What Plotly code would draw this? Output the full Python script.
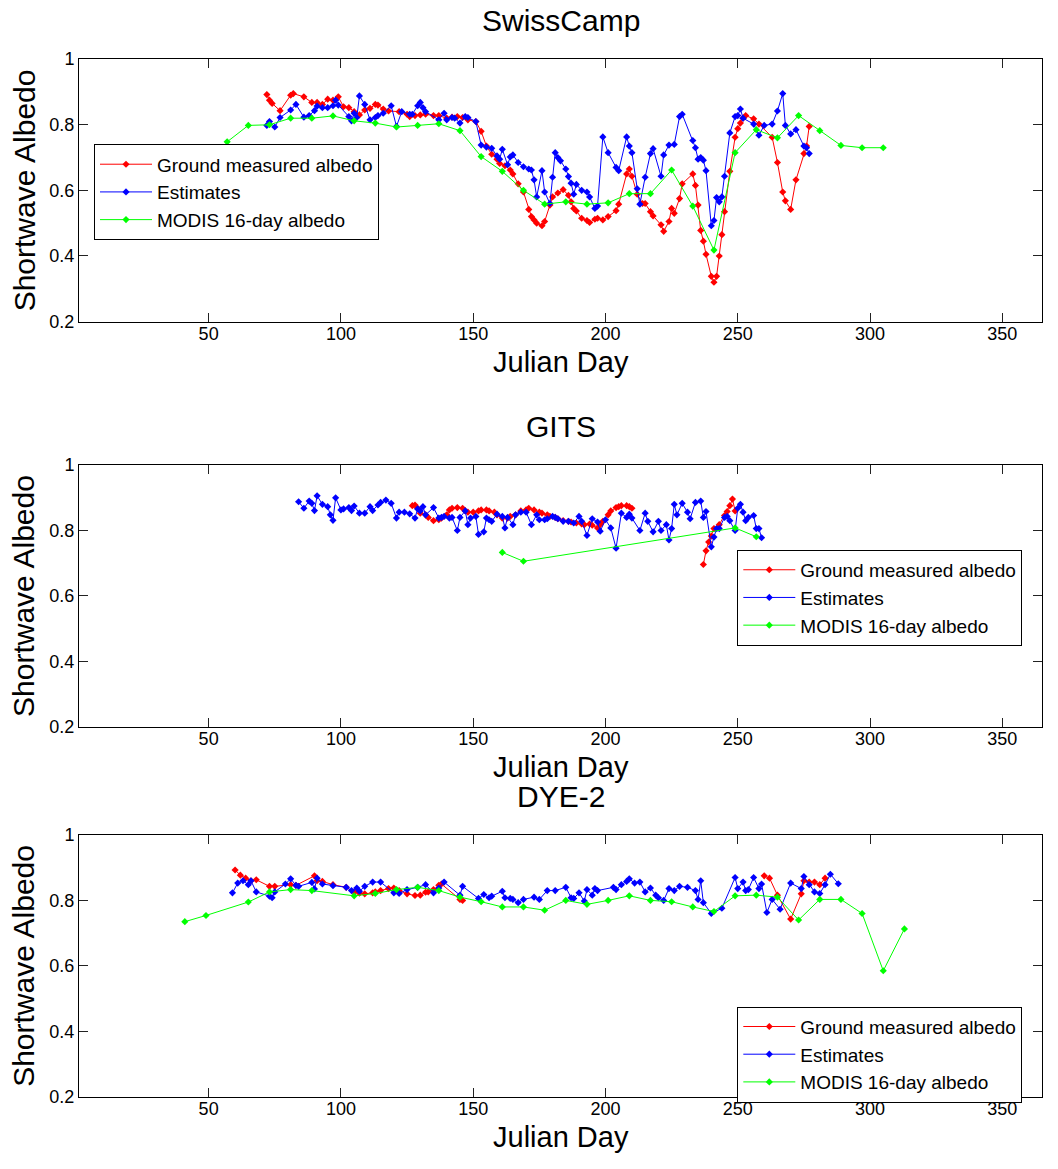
import plotly.graph_objects as go

# ---------------- SwissCamp ----------------
swiss_ground_day = [72, 73, 74, 77, 81, 82, 86, 89, 91, 93, 95, 97, 99, 101, 103, 105, 107, 109, 111,
                    113, 114, 116, 118, 122, 125, 126, 128, 130, 132, 135, 137, 140, 142, 144, 146, 148,
                    151, 153, 155, 157, 159, 160, 162, 164, 165, 167, 169, 171, 172, 173, 174, 176, 177,
                    179, 180, 182, 184, 186, 187, 188, 189, 191, 193, 194, 196, 197, 199, 201, 204, 205,
                    208, 209, 210, 212, 214, 215, 217, 218, 221, 222, 224, 225, 226, 228, 229, 233, 234,
                    235, 236, 237, 238, 240, 241, 242, 243, 244, 245, 247, 249, 250, 251, 252, 253, 256,
                    258, 263, 265, 267, 268, 270, 272, 275, 276, 277]
swiss_ground_alb = [0.892, 0.875, 0.865, 0.843, 0.890, 0.895, 0.885, 0.868, 0.868, 0.862, 0.878, 0.875,
                    0.885, 0.855, 0.852, 0.840, 0.830, 0.845, 0.850, 0.862, 0.860, 0.848, 0.842, 0.840,
                    0.832, 0.825, 0.828, 0.830, 0.832, 0.828, 0.828, 0.820, 0.823, 0.825, 0.822, 0.815,
                    0.810, 0.780, 0.735, 0.710, 0.695, 0.682, 0.675, 0.662, 0.650, 0.620, 0.595, 0.542,
                    0.520, 0.510, 0.500, 0.492, 0.505, 0.555, 0.580, 0.592, 0.602, 0.585, 0.565, 0.545,
                    0.537, 0.515, 0.508, 0.502, 0.512, 0.515, 0.510, 0.520, 0.538, 0.558, 0.650, 0.665,
                    0.643, 0.588, 0.560, 0.560, 0.535, 0.522, 0.495, 0.475, 0.505, 0.545, 0.530, 0.575,
                    0.620, 0.650, 0.615, 0.555, 0.478, 0.445, 0.405, 0.338, 0.320, 0.338, 0.400, 0.465,
                    0.535, 0.658, 0.762, 0.788, 0.805, 0.820, 0.828, 0.818, 0.802, 0.762, 0.685, 0.595,
                    0.568, 0.542, 0.632, 0.712, 0.735, 0.795]

swiss_est_day = [72, 73, 75, 77, 81, 83, 86, 88, 90, 91, 93, 95, 97, 98, 99, 103, 104, 105, 106, 107,
                 109, 111, 113, 114, 116, 119, 121, 123, 126, 127, 129, 130, 131, 132, 137, 139, 140, 142,
                 143, 145, 147, 148, 151, 153, 155, 157, 159, 160, 161, 163, 164, 165, 167, 169, 171, 172,
                 173, 174, 176, 177, 179, 180, 181, 182, 183, 185, 186, 187, 188, 189, 191, 193, 194, 196,
                 197, 199, 201, 204, 205, 208, 209, 210, 212, 213, 215, 217, 218, 221, 222, 224, 226, 228,
                 229, 233, 234, 235, 236, 237, 238, 240, 241, 242, 243, 244, 245, 247, 249, 250, 251, 252,
                 256, 258, 260, 263, 265, 267, 268, 270, 272, 275, 276, 277]
swiss_est_alb = [0.798, 0.810, 0.793, 0.822, 0.845, 0.862, 0.823, 0.828, 0.843, 0.857, 0.852, 0.852,
                 0.858, 0.875, 0.860, 0.825, 0.812, 0.835, 0.822, 0.888, 0.862, 0.815, 0.822, 0.828,
                 0.835, 0.858, 0.795, 0.840, 0.832, 0.832, 0.858, 0.868, 0.852, 0.840, 0.815, 0.835,
                 0.815, 0.822, 0.820, 0.805, 0.825, 0.822, 0.810, 0.738, 0.732, 0.728, 0.705, 0.695,
                 0.725, 0.678, 0.702, 0.708, 0.685, 0.672, 0.665, 0.662, 0.632, 0.580, 0.660, 0.595,
                 0.560, 0.640, 0.715, 0.700, 0.690, 0.665, 0.642, 0.622, 0.588, 0.618, 0.600, 0.595,
                 0.580, 0.545, 0.552, 0.763, 0.715, 0.670, 0.660, 0.763, 0.735, 0.715, 0.605, 0.558,
                 0.640, 0.712, 0.727, 0.643, 0.708, 0.738, 0.740, 0.825, 0.832, 0.752, 0.730, 0.695,
                 0.700, 0.692, 0.660, 0.492, 0.508, 0.578, 0.565, 0.580, 0.643, 0.775, 0.825, 0.828,
                 0.848, 0.820, 0.802, 0.768, 0.798, 0.802, 0.842, 0.895, 0.798, 0.772, 0.785, 0.735,
                 0.730, 0.712]

swiss_modis_day = [57, 65, 73, 81, 89, 97, 105, 113, 121, 129, 137, 145, 153, 161, 169, 177, 185,
                   193, 201, 209, 217, 225, 233, 241, 249, 257, 265, 273, 281, 289, 297, 305]
swiss_modis_alb = [0.748, 0.798, 0.800, 0.820, 0.820, 0.827, 0.812, 0.805, 0.793, 0.798, 0.803, 0.782,
                   0.703, 0.658, 0.600, 0.558, 0.565, 0.558, 0.562, 0.590, 0.590, 0.662, 0.552, 0.418,
                   0.715, 0.785, 0.760, 0.828, 0.782, 0.737, 0.730, 0.730]

# ---------------- GITS ----------------
# None marks the break in the ground record between the two measuring periods
gits_ground_day = [127, 128, 129, 130, 132, 133, 135, 137, 138, 140, 141, 142, 144, 146, 147, 148, 150,
                   152, 153, 155, 156, 158, 159, 161, 163, 164, 166, 168, 170, 171, 173, 175, 176, 178,
                   179, 181, 182, 184, 186, 187, 189, 191, 192, 194, 195, 197, 198, 199, 201, 202, 204,
                   205, 206, 208, 209, 210, None,
                   237, 238, 239, 240, 241, 243, 245, 246, 247, 248, 249]
gits_ground_alb = [0.876, 0.878, 0.868, 0.853, 0.848, 0.840, 0.830, 0.833, 0.838, 0.848, 0.863, 0.868,
                   0.870, 0.868, 0.860, 0.856, 0.856, 0.860, 0.863, 0.863, 0.860, 0.856, 0.848, 0.838,
                   0.838, 0.843, 0.848, 0.860, 0.863, 0.868, 0.863, 0.856, 0.853, 0.848, 0.843, 0.840,
                   0.836, 0.830, 0.828, 0.826, 0.823, 0.820, 0.818, 0.820, 0.816, 0.808, 0.818, 0.828,
                   0.848, 0.860, 0.870, 0.873, 0.876, 0.876, 0.873, 0.868, None,
                   0.696, 0.738, 0.765, 0.783, 0.806, 0.818, 0.846, 0.858, 0.876, 0.896, 0.860]

gits_est_day = [84, 86, 88, 89, 90, 91, 93, 95, 96, 97, 98, 100, 101, 103, 104, 105, 107, 109, 111, 112,
                114, 115, 117, 119, 121, 122, 124, 126, 128, 129, 130, 131, 132, 135, 137, 138, 139, 141,
                142, 144, 145, 147, 148, 149, 151, 152, 154, 155, 156, 157, 159, 161, 162, 163, 165, 166,
                168, 170, 172, 174, 175, 177, 178, 180, 181, 182, 184, 186, 188, 190, 191, 193, 195, 197,
                198, 200, 202, 204, 206, 208, 209, 210, 213, 215, 216, 218, 220, 221, 223, 224, 225, 226,
                227, 229, 231, 232, 234, 236, 237, 238, 240, 241, 242, 243, 245, 246, 247, 249, 250, 251,
                252, 253, 254, 256, 257, 258, 259]
gits_est_alb = [0.888, 0.868, 0.890, 0.883, 0.861, 0.906, 0.880, 0.873, 0.848, 0.831, 0.900, 0.863,
                0.866, 0.870, 0.861, 0.875, 0.853, 0.853, 0.873, 0.861, 0.878, 0.886, 0.893, 0.883,
                0.838, 0.856, 0.856, 0.851, 0.838, 0.866, 0.860, 0.873, 0.848, 0.870, 0.838, 0.840,
                0.843, 0.838, 0.840, 0.800, 0.840, 0.860, 0.818, 0.838, 0.843, 0.788, 0.796, 0.838,
                0.833, 0.828, 0.850, 0.843, 0.808, 0.840, 0.818, 0.848, 0.856, 0.856, 0.818, 0.848,
                0.833, 0.833, 0.836, 0.843, 0.840, 0.836, 0.828, 0.828, 0.823, 0.843, 0.828, 0.785,
                0.836, 0.826, 0.798, 0.833, 0.808, 0.746, 0.853, 0.840, 0.850, 0.838, 0.800, 0.853,
                0.828, 0.796, 0.828, 0.800, 0.818, 0.771, 0.806, 0.880, 0.848, 0.883, 0.856, 0.836,
                0.886, 0.890, 0.840, 0.858, 0.750, 0.780, 0.806, 0.806, 0.840, 0.843, 0.830, 0.800,
                0.868, 0.880, 0.856, 0.830, 0.840, 0.846, 0.806, 0.806, 0.778]

gits_modis_day = [161, 169, 249, 257]
gits_modis_alb = [0.733, 0.706, 0.808, 0.781]

# ---------------- DYE-2 ----------------
dye_ground_day = [60, 62, 64, 66, 68, 73, 75, 81, 83, 90, 91, 93, 97, 102, 105, 107, 109, 112, 113, 115,
                  118, 120, 122, 125, 128, 130, 132, 133, 135, 137, 138, 145, 146, None,
                  260, 262, 265, 270, 274, 275, 277, 279, 281, 283]
dye_ground_alb = [0.893, 0.877, 0.868, 0.860, 0.863, 0.843, 0.843, 0.848, 0.846, 0.875, 0.860, 0.858,
                  0.848, 0.840, 0.826, 0.822, 0.820, 0.823, 0.826, 0.830, 0.836, 0.838, 0.830, 0.820,
                  0.815, 0.816, 0.825, 0.826, 0.833, 0.846, 0.850, 0.803, 0.800, None,
                  0.875, 0.868, 0.816, 0.743, 0.820, 0.860, 0.856, 0.856, 0.848, 0.868]

dye_est_day = [59, 61, 63, 65, 66, 68, 73, 74, 75, 79, 81, 83, 84, 89, 90, 91, 93, 97, 102, 104, 106,
               107, 109, 112, 115, 120, 122, 125, 129, 132, 135, 137, 139, 145, 146, 152, 154, 156, 157,
               161, 162, 164, 165, 167, 169, 173, 175, 178, 181, 185, 187, 188, 190, 192, 193, 195, 196,
               197, 203, 204, 206, 208, 209, 211, 213, 215, 217, 219, 220, 222, 224, 226, 228, 231, 234,
               235, 236, 237, 240, 244, 249, 250, 252, 253, 254, 256, 258, 259, 261, 263, 266, 270, 274,
               275, 277, 279, 281, 283, 285, 288]
dye_est_alb = [0.823, 0.853, 0.860, 0.848, 0.860, 0.826, 0.813, 0.808, 0.826, 0.850, 0.866, 0.846,
               0.843, 0.855, 0.835, 0.868, 0.850, 0.845, 0.840, 0.830, 0.838, 0.828, 0.843, 0.856,
               0.856, 0.823, 0.821, 0.833, 0.840, 0.848, 0.823, 0.838, 0.856, 0.816, 0.843, 0.806,
               0.818, 0.808, 0.813, 0.828, 0.808, 0.806, 0.803, 0.793, 0.803, 0.810, 0.803, 0.830,
               0.830, 0.840, 0.808, 0.806, 0.823, 0.798, 0.833, 0.816, 0.836, 0.830, 0.840, 0.833,
               0.848, 0.858, 0.866, 0.853, 0.856, 0.826, 0.838, 0.816, 0.808, 0.800, 0.836, 0.830,
               0.843, 0.840, 0.830, 0.803, 0.860, 0.793, 0.760, 0.776, 0.870, 0.836, 0.856, 0.830,
               0.833, 0.870, 0.836, 0.850, 0.763, 0.803, 0.773, 0.853, 0.836, 0.873, 0.848, 0.826,
               0.821, 0.848, 0.880, 0.851]

dye_modis_day = [41, 49, 65, 73, 81, 89, 105, 113, 121, 129, 137, 145, 153, 161, 169, 177, 185, 193,
                 201, 209, 217, 225, 233, 241, 249, 257, 265, 273, 281, 289, 297, 305, 313]
dye_modis_alb = [0.735, 0.754, 0.795, 0.826, 0.833, 0.830, 0.814, 0.821, 0.833, 0.840, 0.830, 0.810,
                 0.796, 0.780, 0.780, 0.770, 0.800, 0.788, 0.800, 0.814, 0.800, 0.796, 0.780, 0.766,
                 0.814, 0.816, 0.810, 0.740, 0.803, 0.803, 0.760, 0.585, 0.713]

site_names = ["SwissCamp", "GITS", "DYE-2"]
series_names = ["Ground measured albedo", "Estimates", "MODIS 16-day albedo"]
series_colors = ["#ff0000", "#0000ff", "#00ff00"]
x_ticks = [50, 100, 150, 200, 250, 300, 350]
y_ticks = [0.2, 0.4, 0.6, 0.8, 1.0]
y_tick_text = ["0.2", "0.4", "0.6", "0.8", "1"]

panels = [
    [(swiss_ground_day, swiss_ground_alb), (swiss_est_day, swiss_est_alb), (swiss_modis_day, swiss_modis_alb)],
    [(gits_ground_day, gits_ground_alb), (gits_est_day, gits_est_alb), (gits_modis_day, gits_modis_alb)],
    [(dye_ground_day, dye_ground_alb), (dye_est_day, dye_est_alb), (dye_modis_day, dye_modis_alb)],
]

FONT = "Liberation Sans, Arial, Helvetica, sans-serif"
W, H = 1058, 1169
ML, MR = 79, 16
PW = W - ML - MR

def px_x(p):
    return (p - ML) / PW

def px_y(p):
    return 1 - p / H

# plot-area vertical extents in pixels (top, bottom)
boxes = [(50, 317), (463, 729.3), (839.3, 1105.7)]
legend_pos = [(94, 136.7), (737.3, 549.3), (737.3, 1014)]
legend_ids = ["legend", "legend2", "legend3"]

fig = go.Figure()
layout = dict(
    width=W, height=H,
    margin=dict(l=ML, r=MR, t=0, b=0),
    paper_bgcolor="white", plot_bgcolor="white",
    font=dict(family=FONT, color="black"),
    showlegend=True,
)

annotations = []
for i, series in enumerate(panels):
    sfx = "" if i == 0 else str(i + 1)
    for j, (xd, yd) in enumerate(series):
        fig.add_trace(go.Scatter(
            x=xd, y=yd, mode="lines+markers", name=series_names[j],
            line=dict(color=series_colors[j], width=1),
            marker=dict(symbol="diamond", size=5.5, color=series_colors[j]),
            xaxis="x" + sfx, yaxis="y" + sfx, legend=legend_ids[i],
        ))
    top, bot = boxes[i]
    layout["xaxis" + sfx] = dict(
        domain=[0, 1], anchor="y" + sfx, range=[1, 365],
        tickvals=x_ticks, ticks="inside", ticklen=9, tickcolor="#222",
        showline=True, linecolor="black", linewidth=1, mirror="ticks",
        showgrid=False, zeroline=False, tickfont=dict(size=18, family=FONT),
        ticklabelstandoff=-4,
    )
    layout["yaxis" + sfx] = dict(
        domain=[px_y(bot), px_y(top)], anchor="x" + sfx, range=[0.2, 1.0],
        tickvals=y_ticks, ticktext=y_tick_text, ticks="inside", ticklen=9, tickcolor="#222",
        showline=True, linecolor="black", linewidth=1, mirror="ticks",
        showgrid=False, zeroline=False, tickfont=dict(size=18, family=FONT),
    )
    lx, ly = legend_pos[i]
    layout[legend_ids[i]] = dict(
        x=px_x(lx), y=px_y(ly), xanchor="left", yanchor="top",
        bgcolor="white", bordercolor="black", borderwidth=1,
        font=dict(size=19, family=FONT), tracegroupgap=0, itemwidth=52,
    )
    # panel title
    annotations.append(dict(
        text=site_names[i], x=0.5, y=px_y(top - 39), xref="paper", yref="paper",
        xanchor="center", yanchor="middle", showarrow=False, font=dict(size=30, family=FONT),
    ))
    # x-axis title
    annotations.append(dict(
        text="Julian Day", x=0.5, y=px_y(bot + 41), xref="paper", yref="paper",
        xanchor="center", yanchor="middle", showarrow=False, font=dict(size=29, family=FONT),
    ))
    # y-axis title
    annotations.append(dict(
        text="Shortwave Albedo", x=px_x(24), y=px_y((top + bot) / 2), xref="paper", yref="paper",
        xanchor="center", yanchor="middle", textangle=-90, showarrow=False,
        font=dict(size=30, family=FONT),
    ))

layout["annotations"] = annotations
fig.update_layout(**layout)
fig.write_html("out.html")
